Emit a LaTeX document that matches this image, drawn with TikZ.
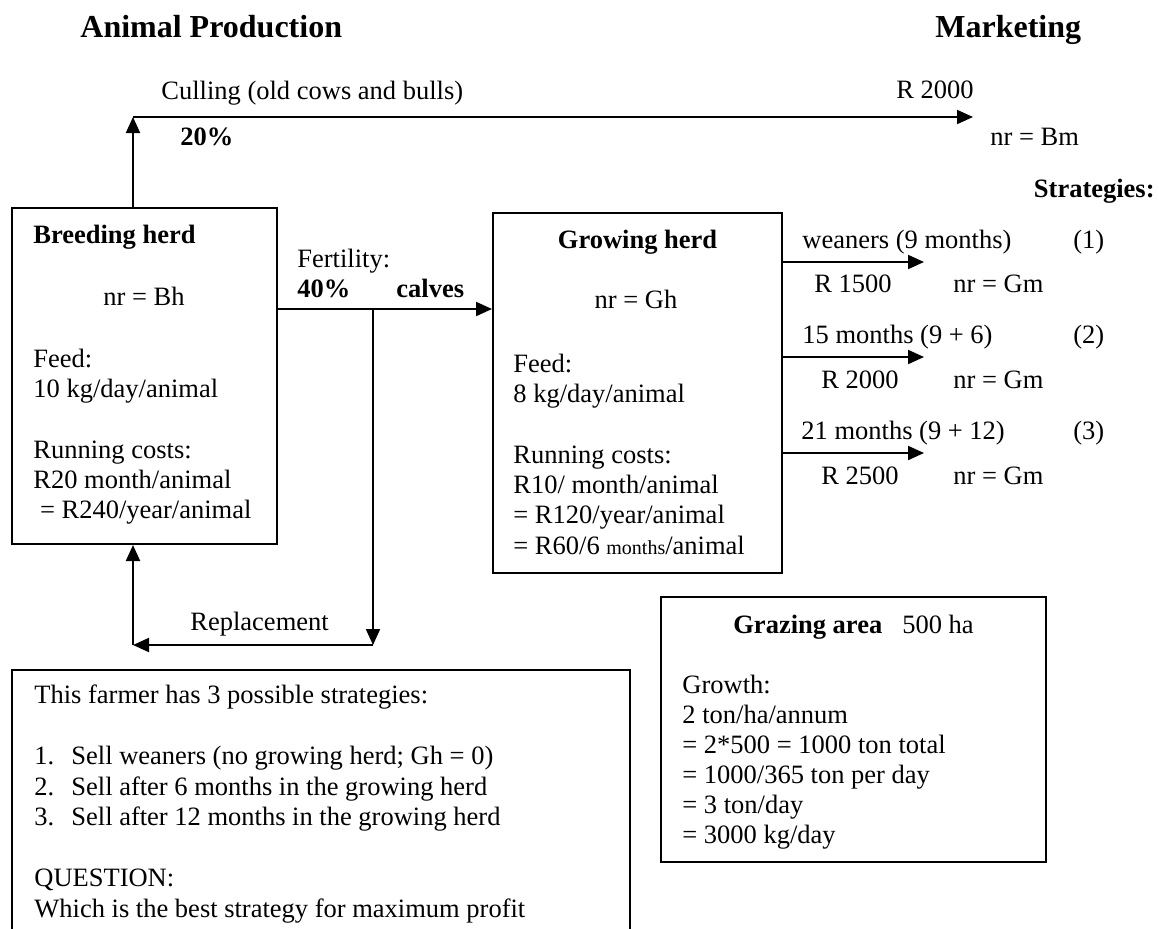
\documentclass[tikz,border=0pt]{standalone}
\usepackage{fontspec}
\setmainfont{Liberation Serif}
\usetikzlibrary{arrows.meta,fit}
\begin{document}
\begin{tikzpicture}[x=0.5pt,y=-0.5pt,
  txt/.style={inner sep=0pt,anchor=base west,font=\fontsize{13.25}{15}\selectfont},
  btxt/.style={txt,font=\fontsize{13.25}{15}\selectfont\bfseries},
  ctxt/.style={txt,anchor=base},
  heading/.style={inner sep=0pt,anchor=base west,font=\fontsize{16}{19}\selectfont\bfseries},
  box/.style={draw,line width=1pt,inner sep=0pt},
  flow/.style={line width=1pt,-{Triangle[length=8pt,width=7pt]}},
]
\useasboundingbox (0,0) rectangle (1159,928);
\clip (0,0) rectangle (1159,928);

% headings
\node[heading] (hprod) at (80,37) {Animal Production};
\node[heading] (hmark) at (935,37) {Marketing};

% boxes
\node[box,fit={(12,208) (277,544)}] (breed) {};
\node[box,fit={(493,213) (782,573)}] (grow) {};
\node[box,fit={(661,597) (1046,862)}] (graze) {};
\node[box,fit={(12,670) (630,960)}] (task) {};

% bend points of the connectors
\coordinate (cullcorner) at (133,117);
\coordinate (cullend) at (973,117);
\coordinate (split) at (373,309);
\coordinate (replcorner) at (373,645);
\coordinate (replleft) at (133,645);
\coordinate (s1) at (924,262);
\coordinate (s2) at (924,357);
\coordinate (s3) at (924,453);

% culling
\draw[flow] (breed.north -| cullcorner) -- (cullcorner);
\draw[flow] (cullcorner) -- (cullend);
\node[txt] (culltxt) at (161,99) {Culling (old cows and bulls)};
\node[btxt] (cullpct) at (180,145) {20\%};
\node[txt] (cullprice) at (896,98) {R 2000};
\node[txt] (cullnr) at (990,145) {nr = Bm};
\node[btxt,anchor=base east] (strat) at (1155,197) {Strategies:};

% calves and replacement
\draw[flow] (breed.east |- split) -- (grow.west |- split);
\draw[flow] (split) -- (replcorner);
\draw[flow] (replcorner) -- (replleft);
\draw[flow] (replleft) -- (breed.south -| replleft);
\node[txt] (fert) at (297,267) {Fertility:};
\node[btxt] (fertpct) at (297,297) {40\%};
\node[btxt] (calves) at (396,297) {calves};
\node[txt] (repl) at (190,630) {Replacement};

% breeding herd
\node[btxt] (b0) at (33,243) {Breeding herd};
\node[ctxt] (b1) at (144,305) {nr = Bh};
\node[txt] (b2) at (33,367) {Feed:};
\node[txt] (b3) at (33,397) {10 kg/day/animal};
\node[txt] (b4) at (33,458) {Running costs:};
\node[txt] (b5) at (33,488) {R20 month/animal};
\node[txt] (b6) at (33,518) {\ = R240/year/animal};

% growing herd
\node[ctxt,font=\fontsize{13.25}{15}\selectfont\bfseries] (g0) at (637.5,248) {Growing herd};
\node[ctxt] (g1) at (636,308) {nr = Gh};
\node[txt] (g2) at (513,372) {Feed:};
\node[txt] (g3) at (513,402) {8 kg/day/animal};
\node[txt] (g4) at (513,463) {Running costs:};
\node[txt] (g5) at (513,493) {R10/ month/animal};
\node[txt] (g6) at (513,523) {= R120/year/animal};
\node[txt] (g7) at (513,554) {= R60/6 {\fontsize{10}{12}\selectfont months}/animal};

% selling options
\draw[flow] (grow.east |- s1) -- (s1);
\draw[flow] (grow.east |- s2) -- (s2);
\draw[flow] (grow.east |- s3) -- (s3);
\node[txt] (o1) at (802,248) {weaners (9 months)};
\node[txt] (n1) at (1073,248) {(1)};
\node[txt] (p1) at (814,292) {R 1500};
\node[txt] (m1) at (953,292) {nr = Gm};
\node[txt] (o2) at (802,343) {15 months (9 + 6)};
\node[txt] (n2) at (1073,343) {(2)};
\node[txt] (p2) at (821,388) {R 2000};
\node[txt] (m2) at (953,388) {nr = Gm};
\node[txt] (o3) at (801,439) {21 months (9 + 12)};
\node[txt] (n3) at (1073,439) {(3)};
\node[txt] (p3) at (821,484) {R 2500};
\node[txt] (m3) at (953,484) {nr = Gm};

% grazing area
\node[ctxt] (z0) at (853.5,633) {\textbf{Grazing area}\hspace{10pt}500 ha};
\node[txt] (z1) at (682,693) {Growth:};
\node[txt] (z2) at (682,723) {2 ton/ha/annum};
\node[txt] (z3) at (682,753) {= 2*500 = 1000 ton total};
\node[txt] (z4) at (682,783) {= 1000/365 ton per day};
\node[txt] (z5) at (682,813) {= 3 ton/day};
\node[txt] (z6) at (682,843) {= 3000 kg/day};

% strategies and question
\node[txt] (t0) at (34,703) {This farmer has 3 possible strategies:};
\node[txt] (t1n) at (34,764) {1.};
\node[txt] (t1) at (71,764) {Sell weaners (no growing herd; Gh = 0)};
\node[txt] (t2n) at (34,795) {2.};
\node[txt] (t2) at (71,795) {Sell after 6 months in the growing herd};
\node[txt] (t3n) at (34,825) {3.};
\node[txt] (t3) at (71,825) {Sell after 12 months in the growing herd};
\node[txt] (t4) at (34,886) {QUESTION:};
\node[txt] (t5) at (34,917) {Which is the best strategy for maximum profit};
\end{tikzpicture}
\end{document}
